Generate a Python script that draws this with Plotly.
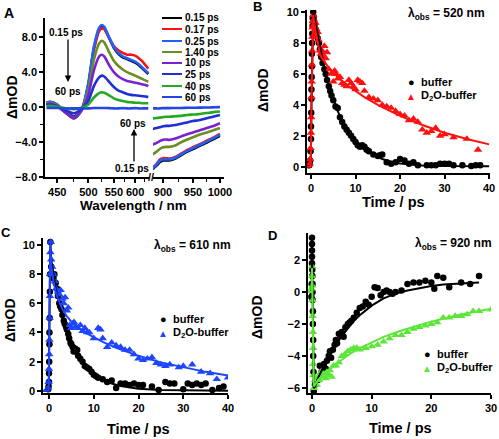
import plotly.graph_objects as go

# ---------------- Panel A data (transient spectra) ----------------
series_labels = ["0.15 ps", "0.17 ps", "0.25 ps", "1.40 ps", "10 ps", "25 ps", "40 ps", "60 ps"]
series_colors = ["#000000", "#FF1010", "#2060FF", "#6B8E23", "#7B22D0", "#1F2FD8", "#22AA22", "#2545E5"]

wl_vis = [435, 440, 450, 460, 470, 475, 480, 490, 500, 510, 520, 525, 530, 540, 550, 560, 570, 580, 590, 600, 610, 620, 630, 636]
vis_015 = [0.4, 0.5, 0.2, -0.4, -0.9, -1.1, -0.9, 0.0, 2.6, 6.7, 8.9, 9.3, 9.1, 7.9, 6.8, 6.1, 5.7, 5.5, 5.3, 5.1, 4.8, 4.4, 4.0, 3.8]
vis_017 = [0.5, 0.6, 0.3, -0.4, -1.0, -1.2, -1.0, 0.0, 2.6, 6.5, 8.7, 9.0, 8.9, 7.9, 7.0, 6.5, 6.2, 6.0, 6.0, 5.9, 5.6, 5.2, 4.7, 4.4]
vis_025 = [0.5, 0.6, 0.3, -0.4, -1.0, -1.2, -1.0, 0.0, 2.8, 6.9, 9.1, 9.4, 9.2, 8.0, 6.9, 6.2, 5.8, 5.6, 5.4, 5.2, 4.9, 4.5, 4.1, 3.9]
vis_140 = [0.4, 0.5, 0.2, -0.5, -1.1, -1.3, -1.1, -0.1, 2.0, 5.4, 7.3, 7.6, 7.4, 6.3, 5.3, 4.7, 4.3, 4.0, 3.8, 3.6, 3.4, 3.2, 3.0, 2.9]
vis_10 = [0.3, 0.4, 0.1, -0.5, -1.1, -1.3, -1.1, -0.2, 1.4, 4.2, 5.8, 6.0, 5.8, 4.8, 4.0, 3.5, 3.2, 3.0, 2.9, 2.8, 2.7, 2.6, 2.5, 2.4]
vis_25 = [0.2, 0.3, 0.1, -0.3, -0.6, -0.7, -0.6, -0.1, 0.7, 2.4, 3.4, 3.6, 3.5, 2.9, 2.3, 1.9, 1.7, 1.5, 1.4, 1.35, 1.3, 1.25, 1.2, 1.15]
vis_40 = [0.1, 0.15, 0.05, -0.1, -0.2, -0.25, -0.2, -0.05, 0.3, 1.1, 1.6, 1.7, 1.65, 1.35, 1.0, 0.8, 0.7, 0.6, 0.55, 0.5, 0.5, 0.45, 0.45, 0.45]
vis_60 = [-0.1, -0.1, -0.1, -0.15, -0.15, -0.15, -0.15, -0.15, -0.15, -0.1, -0.1, -0.1, -0.1, -0.12, -0.15, -0.15, -0.12, -0.15, -0.15, -0.12, -0.15, -0.15, -0.15, -0.15]

wl_nir = [884, 890, 895, 900, 905, 910, 920, 930, 940, 950, 960, 970, 980, 990, 1000]
nir_015 = [-7.1, -6.7, -6.3, -6.1, -6.1, -6.1, -5.9, -5.5, -5.1, -4.8, -4.5, -4.2, -3.9, -3.6, -3.3]
nir_017 = [-6.9, -6.5, -6.0, -5.85, -5.85, -5.9, -5.7, -5.3, -4.9, -4.6, -4.3, -4.0, -3.7, -3.4, -3.05]
nir_025 = [-7.0, -6.6, -6.15, -6.0, -6.0, -6.0, -5.8, -5.4, -5.0, -4.7, -4.4, -4.1, -3.8, -3.5, -3.15]
nir_140 = [-5.4, -5.1, -4.8, -4.6, -4.55, -4.55, -4.4, -4.0, -3.7, -3.45, -3.2, -3.0, -2.8, -2.6, -2.4]
nir_10 = [-4.3, -4.1, -3.9, -3.75, -3.7, -3.75, -3.6, -3.35, -3.1, -2.9, -2.7, -2.5, -2.3, -2.1, -1.85]
nir_25 = [-2.5, -2.4, -2.3, -2.2, -2.15, -2.15, -2.05, -1.9, -1.75, -1.6, -1.5, -1.35, -1.2, -1.05, -0.9]
nir_40 = [-1.3, -1.25, -1.2, -1.15, -1.1, -1.1, -1.05, -1.0, -0.9, -0.85, -0.8, -0.7, -0.65, -0.55, -0.5]
nir_60 = [-0.15, -0.15, -0.15, -0.12, -0.12, -0.12, -0.1, -0.1, -0.08, -0.08, -0.06, -0.05, -0.04, -0.02, 0.0]

vis_series = [vis_015, vis_017, vis_025, vis_140, vis_10, vis_25, vis_40, vis_60]
nir_series = [nir_015, nir_017, nir_025, nir_140, nir_10, nir_25, nir_40, nir_60]

vis_ticks = [450, 500, 550, 600]
vis_minor = [475, 525, 575, 625]
nir_ticks = [900, 950, 1000]
nir_minor = [925, 975]

# ---------------- Panel B data (520 nm) ----------------
tB_buf = [-0.4, -0.3, -0.2, -0.1, 0.0, 0.0, 0.05, 0.1, 0.1, 0.15, 0.2, 0.2, 0.25, 0.3, 0.35, 0.4, 0.5, 0.6, 0.7, 0.8,
          1.0, 1.2, 1.5, 1.8, 2.0, 2.3, 2.6, 3.0, 3.3, 3.6, 4.0, 4.3, 4.6, 5.0, 5.5, 6.0, 6.5, 7.0, 7.5, 8.0,
          8.5, 9.0, 9.5, 10, 10.5, 11, 11.5, 12, 12.5, 13, 14, 15, 15.5, 16, 17, 18, 19, 20, 21, 22,
          23, 24, 26, 27, 28, 29, 30, 31, 32, 34, 36, 37, 38]
vB_buf = [0.1, 0.2, 0.4, 1.0, 1.8, 2.6, 3.5, 4.4, 5.0, 5.8, 6.5, 7.3, 8.0, 8.6, 9.1, 9.6, 10.0, 9.7, 9.4, 9.2,
          8.9, 8.6, 8.3, 8.0, 7.6, 7.1, 6.7, 6.3, 6.0, 5.6, 5.2, 4.9, 4.6, 4.3, 3.9, 3.8, 3.2, 2.9, 2.6, 2.4,
          2.2, 2.0, 1.8, 1.6, 1.4, 1.3, 1.4, 1.3, 1.1, 1.0, 0.8, 0.7, 0.75, 0.8, 0.3, 0.2, 0.3, 0.5, 0.4, 0.2,
          0.3, 0.1, 0.1, 0.1, 0.1, 0.2, 0.2, 0.2, 0.1, 0.1, 0.05, 0.1, 0.1]
tB_d2o = [-0.3, -0.2, -0.1, 0.0, 0.05, 0.1, 0.15, 0.2, 0.25, 0.3, 0.35, 0.4, 0.5, 0.6, 0.7, 0.8, 0.9, 1.0, 1.1, 1.2,
          1.3, 1.5, 1.7, 2.0, 2.2, 2.5, 2.8, 3.0, 3.3, 3.6, 4.0, 4.5, 5.0, 5.3, 5.6, 6.0, 6.5, 7.0, 7.5, 8.0,
          8.5, 9.0, 9.5, 10, 10.5, 11, 11.5, 12, 13, 14, 15, 16, 17, 18, 19, 20, 21, 22, 23, 24,
          25, 26, 27, 28, 29, 30, 32, 35, 37.5]
vB_d2o = [0.2, 0.5, 1.2, 2.2, 3.2, 4.5, 5.5, 6.6, 7.5, 8.4, 9.0, 9.4, 9.8, 9.5, 9.2, 9.0, 8.8, 9.3, 8.6, 8.9,
          8.4, 8.7, 8.2, 7.5, 7.3, 7.5, 7.2, 7.8, 7.0, 7.4, 6.3, 6.0, 5.5, 6.2, 6.0, 5.7, 5.8, 5.4, 5.3, 5.2,
          5.6, 5.4, 5.2, 5.0, 5.6, 5.5, 5.4, 4.9, 4.5, 4.4, 4.3, 4.0, 3.9, 3.8, 3.6, 3.4, 3.3, 3.0, 3.1, 2.9,
          2.4, 2.2, 2.3, 2.5, 2.0, 2.1, 1.9, 1.8, 1.1]
tB_fit_buf = [-1, -0.05, 0.1, 0.2, 0.3, 0.4, 0.5, 1, 1.5, 2, 2.5, 3, 4, 5, 6, 7, 8, 10, 12, 14, 16, 18, 20, 25, 30, 40]
vB_fit_buf = [0, 0, 4.0, 6.5, 8.5, 9.6, 10.0, 9.3, 8.5, 7.8, 7.1, 6.4, 5.3, 4.4, 3.6, 3.0, 2.5, 1.65, 1.1, 0.75, 0.5, 0.33, 0.22, 0.09, 0.05, 0.04]
tB_fit_d2o = [-1, -0.05, 0.1, 0.2, 0.3, 0.4, 0.5, 1, 1.5, 2, 2.5, 3, 4, 5, 6, 8, 10, 12, 15, 20, 25, 30, 35, 40]
vB_fit_d2o = [0, 0, 4.0, 6.5, 8.5, 9.5, 9.8, 8.8, 7.9, 7.3, 7.0, 6.8, 6.4, 6.1, 5.8, 5.3, 4.9, 4.5, 4.0, 3.3, 2.7, 2.2, 1.8, 1.45]

# ---------------- Panel C data (610 nm) ----------------
tC_buf = [-0.2, -0.1, 0.0, 0.0, 0.05, 0.1, 0.1, 0.15, 0.2, 0.25, 0.3, 0.5, 0.7, 1.0, 1.2, 1.5, 1.8, 2.0, 2.3, 2.5,
          2.8, 3.0, 3.3, 3.5, 3.8, 4.0, 4.3, 4.5, 4.8, 5.0, 5.3, 5.5, 5.8, 6.0, 6.3, 6.5, 7.0, 7.5, 8.0, 8.5,
          9.0, 9.5, 10, 10.5, 11, 12, 13, 14, 15, 16, 17, 18, 19, 20, 21, 23, 24.5, 26, 27, 28,
          30, 31, 32, 33, 34, 35, 36.5, 38, 39]
vC_buf = [0.1, 0.3, 0.6, 1.2, 2.0, 3.2, 4.0, 5.0, 6.8, 8.0, 10.2, 8.5, 8.0, 7.7, 8.0, 7.4, 7.0, 6.5, 6.0, 5.8,
          5.6, 5.2, 4.8, 4.6, 4.4, 4.2, 3.9, 3.6, 3.3, 3.2, 3.0, 2.7, 2.9, 2.7, 2.8, 2.4, 2.2, 2.0, 1.7, 1.6,
          1.5, 1.3, 1.1, 1.0, 0.9, 0.8, 0.6, 0.7, 0.2, 0.5, 0.5, 0.4, 0.5, 0.4, 0.4, 0.3, 0.05, 0.6, 0.5, 0.5,
          0.1, 0.5, 0.4, 0.5, 0.4, 0.5, 0.05, 0.2, 0.3]
tC_d2o = [-0.2, -0.1, 0.0, 0.05, 0.1, 0.15, 0.2, 0.25, 0.3, 0.4, 0.5, 0.7, 1.0, 1.3, 1.6, 2.0, 2.3, 2.6, 3.0, 3.3,
          3.6, 4.0, 4.3, 4.6, 5.0, 5.3, 5.6, 6.0, 6.5, 7.0, 7.5, 8.0, 8.5, 9.0, 10, 11, 11.5, 12, 13, 14,
          15, 16, 17, 18, 19, 20, 21, 22, 23, 24, 25, 26, 27, 29, 30, 32, 34, 36, 37.5, 40]
vC_d2o = [0.2, 0.6, 1.5, 2.5, 3.5, 5.0, 6.5, 8.0, 9.5, 10.2, 9.0, 8.5, 8.0, 7.5, 7.0, 6.8, 6.6, 6.9, 6.3, 6.0,
          6.4, 5.5, 5.7, 4.5, 4.3, 4.6, 4.7, 4.4, 4.3, 4.5, 4.1, 4.3, 4.0, 4.0, 3.6, 4.3, 4.2, 3.6, 3.0, 3.3,
          3.1, 3.0, 2.8, 2.8, 2.5, 2.2, 2.1, 2.2, 2.3, 1.9, 1.8, 1.7, 1.8, 1.6, 1.7, 1.8, 1.3, 1.2, 0.8, 0.9]
tC_fit_buf = [-1.3, -0.05, 0.1, 0.2, 0.3, 0.5, 1, 1.5, 2, 3, 4, 5, 6, 7, 8, 10, 12, 14, 16, 20, 25, 30, 40]
vC_fit_buf = [0, 0, 5.0, 9.0, 10.2, 9.0, 7.8, 7.0, 6.3, 5.0, 4.0, 3.2, 2.6, 2.1, 1.7, 1.1, 0.75, 0.5, 0.33, 0.15, 0.06, 0.03, 0.0]
tC_fit_d2o = [-1.3, -0.05, 0.1, 0.2, 0.3, 0.5, 1, 1.5, 2, 3, 4, 5, 6, 8, 10, 12, 15, 20, 25, 30, 35, 40]
vC_fit_d2o = [0, 0, 5.0, 9.0, 10.2, 8.6, 7.5, 6.8, 6.3, 5.6, 5.1, 4.75, 4.45, 4.0, 3.65, 3.35, 2.95, 2.4, 1.95, 1.6, 1.3, 1.05]

# ---------------- Panel D data (920 nm) ----------------
tD_buf = [-0.1, -0.05, 0.0, 0.0, 0.0, 0.0, 0.0, 0.05, 0.05, 0.1, 0.1, 0.1, 0.15, 0.15, 0.2, 0.2, 0.25, 0.3, 0.5, 1.0,
          1.3, 1.6, 2.0, 2.3, 2.5, 2.8, 3.0, 3.2, 3.5, 3.8, 4.0, 4.2, 4.5, 4.8, 5.0, 5.3, 5.6, 6.0, 6.3, 6.6,
          7.0, 7.5, 8.0, 8.5, 9.0, 9.5, 10, 10.5, 11, 11.5, 12, 12.5, 13, 13.5, 14, 15, 16, 17, 18, 19,
          20, 20.5, 21, 22, 23, 25, 26.5, 28]
vD_buf = [-0.3, 0.5, 3.4, 3.0, 2.6, 2.2, 1.8, 1.4, 1.0, 0.5, 0.0, -0.5, -1.2, -2.0, -3.0, -4.0, -5.0, -6.2, -5.8, -5.5,
          -4.6, -5.0, -4.5, -4.8, -4.3, -4.0, -3.7, -4.1, -3.6, -3.3, -3.0, -3.2, -2.6, -2.7, -2.5, -2.8, -2.2, -2.0, -1.9, -1.8,
          -1.6, -1.3, -1.0, -0.9, -0.6, -0.8, -0.3, 0.3, 0.25, -0.2, 0.0, 0.1, 0.0, -0.1, 0.0, 0.1, 0.5, 0.6, 0.6, 0.7,
          0.6, 0.2, 1.0, 0.9, 0.3, 0.6, 0.5, 1.0]
tD_d2o = [-0.1, 0.0, 0.0, 0.05, 0.1, 0.1, 0.15, 0.2, 0.2, 0.25, 0.3, 0.5, 0.8, 1.0, 1.2, 1.5, 1.8, 2.0, 2.3, 2.5,
          2.8, 3.0, 3.3, 3.6, 4.0, 4.5, 5.0, 5.5, 6.0, 6.5, 7.0, 7.5, 8.0, 9.0, 10, 11, 12, 13, 14, 15,
          16, 17, 18, 19, 20, 21, 22, 23, 24, 25, 26, 27, 28, 30]
vD_d2o = [0.2, 1.6, 1.0, 0.4, -0.5, -1.5, -2.5, -3.5, -4.5, -5.2, -6.0, -5.5, -5.8, -5.3, -5.5, -5.0, -5.3, -5.1, -5.4, -5.0,
          -5.2, -4.9, -5.3, -4.6, -4.6, -4.4, -4.0, -3.9, -3.7, -3.6, -3.5, -3.5, -3.6, -3.5, -3.4, -3.3, -3.1, -2.9, -2.7, -2.7,
          -2.5, -2.3, -2.2, -2.1, -2.0, -1.9, -1.6, -1.6, -1.5, -1.5, -1.4, -1.2, -1.2, -1.1]
tD_fit_buf = [-0.7, -0.05, 0.0, 0.1, 0.2, 0.3, 0.5, 1, 2, 3, 4, 5, 6, 7, 8, 10, 12, 14, 16, 18, 20, 22, 25, 28]
vD_fit_buf = [0, 0, 3.0, 0.0, -3.5, -6.0, -5.9, -5.4, -4.6, -3.9, -3.3, -2.75, -2.25, -1.8, -1.45, -0.85, -0.4, -0.1, 0.1, 0.25, 0.38, 0.47, 0.55, 0.6]
tD_fit_d2o = [-0.7, -0.05, 0.0, 0.1, 0.2, 0.3, 0.5, 1, 2, 3, 4, 5, 6, 8, 10, 12, 15, 20, 25, 30]
vD_fit_d2o = [0, 0, 1.5, -1.0, -4.0, -5.9, -5.8, -5.5, -5.1, -4.8, -4.5, -4.2, -3.95, -3.5, -3.15, -2.8, -2.4, -1.85, -1.4, -1.05]

pairs = [(tB_buf, vB_buf), (tB_d2o, vB_d2o), (tB_fit_buf, vB_fit_buf), (tB_fit_d2o, vB_fit_d2o),
         (tC_buf, vC_buf), (tC_d2o, vC_d2o), (tC_fit_buf, vC_fit_buf), (tC_fit_d2o, vC_fit_d2o),
         (tD_buf, vD_buf), (tD_d2o, vD_d2o), (tD_fit_buf, vD_fit_buf), (tD_fit_d2o, vD_fit_d2o)]
for i, (a, b) in enumerate(pairs):
    assert len(a) == len(b), (i, len(a), len(b))
for s in vis_series:
    assert len(s) == len(wl_vis)
for s in nir_series:
    assert len(s) == len(wl_nir)

# ---------------- styling ----------------
W, H = 499, 439
FONT = "Liberation Sans"
RED = "#FF1010"
BLUE_C = "#1F45FF"
GREEN_D = "#5CE63A"


def px(x):
    return x / W


def py(y):
    return 1 - y / H


def wn(lams):
    # wavelength (nm) -> wavenumber (cm^-1); panel A axis is linear in energy
    return [1e7 / l for l in lams]


fig = go.Figure()

# Panel A traces
for lab, col, vs, ns in zip(series_labels, series_colors, vis_series, nir_series):
    fig.add_trace(go.Scatter(x=wn(wl_vis), y=vs, mode="lines", line=dict(color=col, width=2.6, shape="spline", smoothing=0.6),
                             xaxis="x", yaxis="y", showlegend=False, name=lab))
    fig.add_trace(go.Scatter(x=wn(wl_nir), y=ns, mode="lines", line=dict(color=col, width=2.6, shape="spline", smoothing=0.6),
                             xaxis="x2", yaxis="y", showlegend=False, name=lab))


def add_kinetics(t1, v1, f1t, f1v, c1, t2, v2, f2t, f2v, c2, xa, ya):
    fig.add_trace(go.Scatter(x=t1, y=v1, mode="markers", marker=dict(symbol="circle", size=6.5, color=c1),
                             xaxis=xa, yaxis=ya, showlegend=False, name="buffer"))
    fig.add_trace(go.Scatter(x=t2, y=v2, mode="markers", marker=dict(symbol="triangle-up", size=7.5, color=c2),
                             xaxis=xa, yaxis=ya, showlegend=False, name="D2O-buffer"))
    fig.add_trace(go.Scatter(x=f1t, y=f1v, mode="lines", line=dict(color=c1, width=2),
                             xaxis=xa, yaxis=ya, showlegend=False, hoverinfo="skip"))
    fig.add_trace(go.Scatter(x=f2t, y=f2v, mode="lines", line=dict(color=c2, width=2),
                             xaxis=xa, yaxis=ya, showlegend=False, hoverinfo="skip"))


add_kinetics(tB_buf, vB_buf, tB_fit_buf, vB_fit_buf, "#000000", tB_d2o, vB_d2o, tB_fit_d2o, vB_fit_d2o, RED, "x3", "y3")
add_kinetics(tC_buf, vC_buf, tC_fit_buf, vC_fit_buf, "#000000", tC_d2o, vC_d2o, tC_fit_d2o, vC_fit_d2o, BLUE_C, "x4", "y4")
add_kinetics(tD_buf, vD_buf, tD_fit_buf, vD_fit_buf, "#000000", tD_d2o, vD_d2o, tD_fit_d2o, vD_fit_d2o, GREEN_D, "x5", "y5")

tickfont = dict(family=FONT, size=11, color="black", weight="bold")
axis_common = dict(showline=True, linecolor="black", linewidth=1.6, ticks="outside", ticklen=4, tickwidth=1.5,
                   tickcolor="black", showgrid=False, zeroline=False, tickfont=tickfont, mirror=False,
                   automargin=False)

fig.update_layout(
    template="none",
    width=W, height=H, margin=dict(l=0, r=0, t=0, b=0, autoexpand=False),
    paper_bgcolor="white", plot_bgcolor="white", showlegend=False,
    font=dict(family=FONT, color="black"),
    xaxis=dict(axis_common, domain=[px(45), px(149)], range=[1e7 / 433, 1e7 / 638], anchor="y",
               tickmode="array", tickvals=wn(vis_ticks), ticktext=[str(v) for v in vis_ticks],
               minor=dict(tickmode="array", tickvals=wn(vis_minor), ticks="outside", ticklen=3, tickwidth=1.2, tickcolor="black")),
    xaxis2=dict(axis_common, domain=[px(153), px(224)], range=[1e7 / 884.5, 1e7 / 1008], anchor="y",
                tickmode="array", tickvals=wn(nir_ticks), ticktext=[str(v) for v in nir_ticks],
                minor=dict(tickmode="array", tickvals=wn(nir_minor), ticks="outside", ticklen=3, tickwidth=1.2, tickcolor="black")),
    yaxis=dict(axis_common, domain=[py(177), py(18)], range=[-8, 10.2], anchor="x",
               tickmode="array", tickvals=[-8, -4, 0, 4, 8], tickformat=".1f",
               minor=dict(tickmode="array", tickvals=[-6, -2, 2, 6], ticks="outside", ticklen=3, tickwidth=1.2, tickcolor="black")),
    xaxis3=dict(axis_common, domain=[px(307), px(490)], range=[-0.9, 40.2], anchor="y3", tickvals=[0, 10, 20, 30, 40]),
    yaxis3=dict(axis_common, domain=[py(173), py(10)], range=[-0.4, 10.13], anchor="x3", tickvals=[0, 2, 4, 6, 8, 10]),
    xaxis4=dict(axis_common, domain=[px(43), px(228)], range=[-1.34, 40], anchor="y4", tickvals=[0, 10, 20, 30, 40]),
    yaxis4=dict(axis_common, domain=[py(393), py(238)], range=[-0.15, 10.48], anchor="x4", tickvals=[0, 2, 4, 6, 8, 10]),
    xaxis5=dict(axis_common, domain=[px(308), px(491)], range=[-0.67, 30], anchor="y5", tickvals=[0, 10, 20, 30]),
    yaxis5=dict(axis_common, domain=[py(393), py(233)], range=[-6.31, 3.69], anchor="x5", tickvals=[-6, -4, -2, 0, 2]),
)

ann = []


def text(x, y, s, size=11, xanchor="center", yanchor="middle", color="black", angle=0):
    ann.append(dict(x=px(x), y=py(y), xref="paper", yref="paper", text=s, showarrow=False,
                    xanchor=xanchor, yanchor=yanchor, textangle=angle,
                    font=dict(family=FONT, size=size, color=color, weight="bold")))


# panel letters
text(9, 13, "A", 14)
text(257, 7, "B", 13)
text(6, 232, "C", 13)
text(272, 235, "D", 13)

# axis titles
text(133, 205, "Wavelength / nm", 13.5)
text(12, 97, "ΔmOD", 14, angle=-90)
text(393, 202, "Time / ps", 14.5)
text(263, 90, "ΔmOD", 14, angle=-90)
text(138, 429, "Time / ps", 14.5)
text(10, 320, "ΔmOD", 14, angle=-90)
text(400, 428, "Time / ps", 14.5)
text(257, 317, "ΔmOD", 14, angle=-90)

# observation wavelengths
text(446, 14, "λ<sub>obs</sub> = 520 nm", 12)
text(192, 246, "λ<sub>obs</sub> = 610 nm", 12)
text(453, 244, "λ<sub>obs</sub> = 920 nm", 12)

# panel A legend
leg_y = [18, 29, 41, 52, 63, 74, 86, 97]
shapes = []
for lab, col, yy in zip(series_labels, series_colors, leg_y):
    shapes.append(dict(type="line", xref="paper", yref="paper", x0=px(162), x1=px(182), y0=py(yy), y1=py(yy),
                       line=dict(color=col, width=2)))
    text(183, yy, lab, 10, xanchor="left")

# panel A time arrows and labels
text(66, 32, "0.15 ps", 10)
text(68, 91, "60 ps", 10)
ann.append(dict(x=px(68), y=py(82), xref="paper", yref="paper", ax=0, ay=-44, text="", showarrow=True,
                arrowhead=2, arrowsize=1, arrowwidth=1.3, arrowcolor="black"))
text(133, 123, "60 ps", 10)
text(132, 169, "0.15 ps", 10)
ann.append(dict(x=px(134), y=py(129), xref="paper", yref="paper", ax=0, ay=34, text="", showarrow=True,
                arrowhead=2, arrowsize=1, arrowwidth=1.3, arrowcolor="black"))
# axis break mark
text(151, 177, "//", 11)

# kinetics legends


def kin_legend(xm, y1, y2, c1, c2):
    text(xm, y1, "●", 11, color=c1)
    text(xm, y2, "▲", 10, color=c2)
    text(xm + 8, y1, "buffer", 11, xanchor="left")
    text(xm + 8, y2, "D<sub>2</sub>O-buffer", 11, xanchor="left")


kin_legend(411, 82, 96, "#000000", RED)
kin_legend(163, 319, 333, "#000000", BLUE_C)
kin_legend(427, 354, 368, "#000000", GREEN_D)

fig.update_layout(annotations=ann, shapes=shapes)
# the page's default 8px body margin would otherwise shift the whole figure out of the window
fig.write_html("out.html", config={"displayModeBar": False},
               post_script="document.body.style.margin='0';")
